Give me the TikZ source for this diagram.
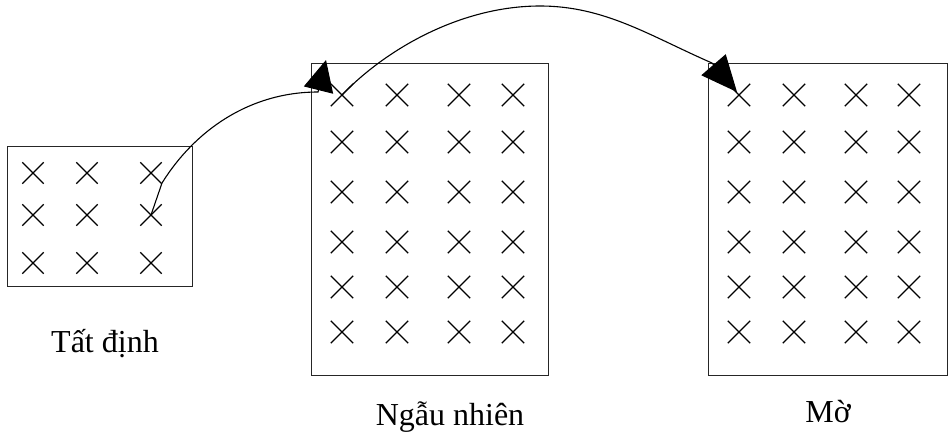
\documentclass[tikz,border=0pt]{standalone}
\usepackage{fontspec}
\setmainfont{Liberation Serif}
\usetikzlibrary{shapes.misc,arrows.meta}
\begin{document}
\begin{tikzpicture}[x=1pt,y=-1pt,
  box/.style={draw=black!85, line width=1.2pt, inner sep=0pt, anchor=north west},
  xmark/.style={cross out, draw=black, line width=1.3pt, inner sep=0pt, minimum size=#1},
  xmark/.default=20pt,
  lbl/.style={font=\fontsize{32}{36}\selectfont, anchor=base, inner sep=0pt},
  conn/.style={line width=1.1pt, -{Triangle[length=31pt,width=30pt]}}]
\useasboundingbox (0,0) rectangle (949,432);
% boxes
\node[box, minimum width=185pt, minimum height=140pt] (B1) at (7,146) {};
\node[box, minimum width=237pt, minimum height=312pt] (B2) at (311,63) {};
\node[box, minimum width=239pt, minimum height=312pt] (B3) at (708,63) {};
% crosses box 1
\foreach \x [count=\j] in {33,87,151}{
  \foreach \y [count=\i] in {173,215,263}{
    \node[xmark=20pt] (c1-\i-\j) at (\x,\y) {};
  }
}
% crosses box 2
\foreach \x [count=\j] in {342,397,459,513}{
  \foreach \y [count=\i] in {95,142,192,242,287,332}{
    \node[xmark=21pt] (c2-\i-\j) at (\x,\y) {};
  }
}
% crosses box 3
\foreach \x [count=\j] in {739,794,856,909}{
  \foreach \y [count=\i] in {95,142,192,242,287,332}{
    \node[xmark=21pt] (c3-\i-\j) at (\x,\y) {};
  }
}
% labels
\node[lbl] (L1) at (105,352) {Tất định};
\node[lbl] (L2) at (450,425) {Ngẫu nhiên};
\node[lbl] (L3) at (828,422) {Mờ};
% arrow end points
\coordinate (t1) at (326,60);
\coordinate (t2) at (737,92);
% connectors
\draw[conn] (c1-2-3.center) -- (162,183) .. controls (195,130) and (250,92) .. (318,92) -- (t1);
\draw[line width=1.1pt, -{Triangle[length=36pt,width=32pt]}] (c2-1-1.center)
   .. controls (385,50) and (460,6) .. (540,6)
   .. controls (605,6) and (650,36) .. (712,63) -- (t2);
\end{tikzpicture}
\end{document}
